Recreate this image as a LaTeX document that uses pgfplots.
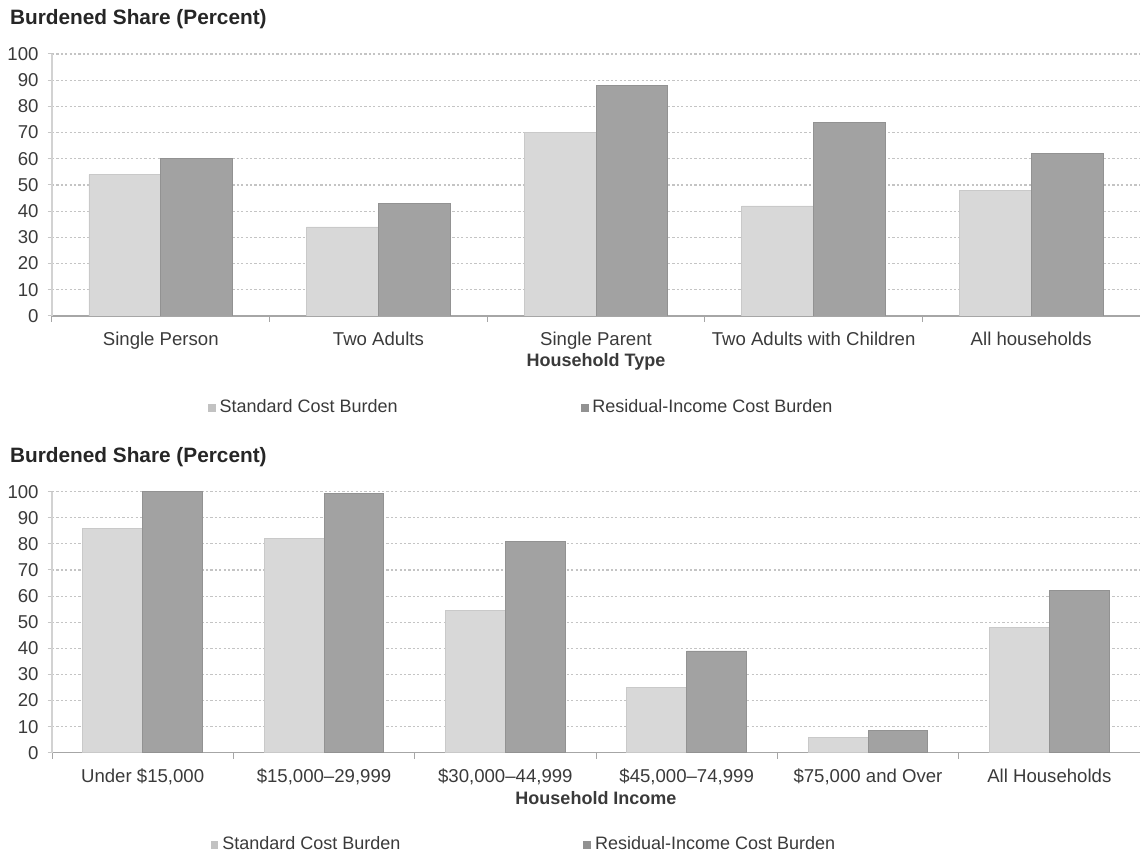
\documentclass[border=0pt]{standalone}
\usepackage{pgfplots}
\pgfplotsset{compat=1.18}
\usepackage{fontspec}
\setmainfont{Liberation Sans}
\definecolor{lightbar}{HTML}{D8D8D8}
\definecolor{darkbar}{HTML}{A2A2A2}
\definecolor{txt}{HTML}{3A3A3A}
\definecolor{gridc}{HTML}{C4C4C4}
\pgfplotsset{
  burden/.style={
    scale only axis, width=544pt, height=131pt,
    ymin=0, ymax=100, ytick={0,10,...,100},
    ymajorgrids,
    major grid style={gridc, dash pattern=on 1.1pt off 1.1pt, line width=0.55pt},
    axis x line*=bottom, axis y line*=left,
    x axis line style={-, gray!70, line width=0.6pt},
    y axis line style={-, gray!35, line width=0.6pt},
    tick align=outside,
    major x tick style={draw=none},
    minor x tick style={gray!70, line width=0.5pt},
    minor tick length=3pt,
    major y tick style={gray!45, line width=0.5pt},
    major tick length=2.2pt,
    /pgf/number format/assume math mode=true,
    font=\fontsize{9}{11}\selectfont,
    every tick label/.append style={text=txt, font=\fontsize{9.3}{11}\selectfont},
    yticklabel style={xshift=-1pt},
    xticklabel style={yshift=-2.5pt},
    title style={at={(axis description cs:0,1)}, anchor=west, xshift=-24.5pt, yshift=11.5pt,
      font=\fontsize{10.4}{12}\selectfont\bfseries, text=black!85},
    xlabel style={font=\fontsize{9}{11}\selectfont\bfseries, text=txt},
    ybar, bar width=0.33,
    legend style={draw=none, fill=none, font=\fontsize{9}{11}\selectfont, text=txt,
      legend columns=2, inner sep=0pt,
      /tikz/every even column/.append style={column sep=89.5pt}},
  },
  lbar/.style={fill=lightbar, draw=lightbar!93!black, line width=0.4pt, bar shift=-0.165,
    legend image code/.code={\fill[lightbar!90!black] (0pt,-1.8pt) rectangle (3.4pt,1.8pt);}},
  dbar/.style={fill=darkbar, draw=darkbar!90!black, line width=0.4pt, bar shift=0.165,
    legend image code/.code={\fill[darkbar!90!black] (0pt,-1.8pt) rectangle (3.4pt,1.8pt);}},
}
\begin{document}
\begin{tikzpicture}
\useasboundingbox (0,0) rectangle (570pt,428pt);
% ---------- top chart ----------
\begin{axis}[burden,
  at={(26pt,270pt)}, anchor=south west,
  xmin=-0.5, xmax=4.5,
  xtick={0,1,2,3,4},
  xticklabels={Single Person, Two Adults, Single Parent, Two Adults with Children, All households},
  minor xtick={-0.5,0.5,1.5,2.5,3.5,4.5},
  title={Burdened Share (Percent)},
  xlabel={Household Type},
  xlabel style={at={(axis description cs:0.5,-0.1756)}, anchor=center},
  legend style={at={(axis description cs:0.143,-0.351)}, anchor=west},
]
\addplot[lbar] coordinates {(0,54) (1,34) (2,70) (3,42) (4,48)};
\addlegendentry{Standard Cost Burden}
\addplot[dbar] coordinates {(0,60) (1,43) (2,88) (3,74) (4,62)};
\addlegendentry{Residual-Income Cost Burden}
\end{axis}
% ---------- bottom chart ----------
\begin{axis}[burden,
  at={(26pt,51.65pt)}, anchor=south west, height=130.5pt,
  xmin=-0.5, xmax=5.5,
  xtick={0,1,2,3,4,5},
  xticklabels={{Under \$15,000}, {\$15,000–29,999}, {\$30,000–44,999}, {\$45,000–74,999}, {\$75,000 and Over}, {All Households}},
  minor xtick={-0.5,0.5,1.5,2.5,3.5,4.5,5.5},
  title={Burdened Share (Percent)},
  xlabel={Household Income},
  xlabel style={at={(axis description cs:0.5,-0.1724)}, anchor=center},
  legend style={at={(axis description cs:0.1455,-0.353)}, anchor=west},
]
\addplot[lbar] coordinates {(0,86) (1,82) (2,54.5) (3,25) (4,6) (5,48)};
\addlegendentry{Standard Cost Burden}
\addplot[dbar] coordinates {(0,100) (1,99.5) (2,81) (3,39) (4,8.5) (5,62)};
\addlegendentry{Residual-Income Cost Burden}
\end{axis}
\end{tikzpicture}
\end{document}
